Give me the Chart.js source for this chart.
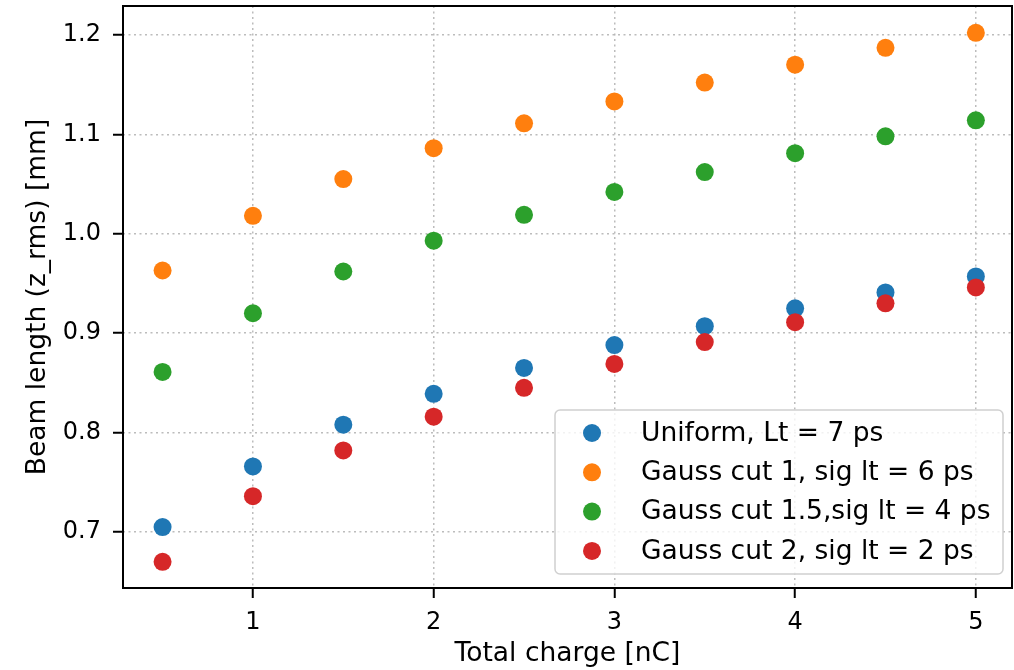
<!DOCTYPE html>
<html>
<head>
<meta charset="utf-8">
<script src="https://cdn.jsdelivr.net/npm/chart.js@4.4.1/dist/chart.umd.min.js"></script>
<style>
  body { margin: 0; background: #fff; }
  canvas { display: block; }
</style>
</head>
<body>
<canvas id="myChart" width="1014" height="670"></canvas>
<script>
// total charge [nC]
const charge = [0.5, 1, 1.5, 2, 2.5, 3, 3.5, 4, 4.5, 5];

// beam length z_rms [mm] per laser profile
const uniform7 = [0.705, 0.766, 0.808, 0.839, 0.865, 0.888, 0.907, 0.925, 0.941, 0.957];
const gaussCut1 = [0.963, 1.018, 1.055, 1.086, 1.111, 1.133, 1.152, 1.170, 1.187, 1.202];
const gaussCut15 = [0.861, 0.920, 0.962, 0.993, 1.019, 1.042, 1.062, 1.081, 1.098, 1.114];
const gaussCut2 = [0.670, 0.736, 0.782, 0.816, 0.845, 0.869, 0.891, 0.911, 0.930, 0.946];

const etiquetas = [
  'Uniform, Lt = 7 ps',
  'Gauss cut 1, sig lt = 6 ps',
  'Gauss cut 1.5,sig lt = 4 ps',
  'Gauss cut 2, sig lt = 2 ps'
];
const colores = ['#1f77b4', '#ff7f0e', '#2ca02c', '#d62728'];

const xTicks = [1, 2, 3, 4, 5];
const yTicks = [0.7, 0.8, 0.9, 1.0, 1.1, 1.2];

const FONT = "'DejaVu Sans', sans-serif";

const puntos = (ys) => charge.map((x, i) => ({ x: x, y: ys[i] }));

const series = [uniform7, gaussCut1, gaussCut15, gaussCut2];
const datasets = series.map((ys, i) => ({
  label: etiquetas[i],
  data: puntos(ys),
  backgroundColor: colores[i],
  borderWidth: 0,
  pointRadius: 9,
  pointHoverRadius: 9,
  order: series.length - 1 - i   // later series drawn on top
}));

// black frame around the plot area + legend box in the lower right
const marco = {
  id: 'marco',
  afterDatasetsDraw(chart) {
    const { ctx, chartArea: a } = chart;
    ctx.save();
    ctx.strokeStyle = '#000';
    ctx.lineWidth = 2;
    ctx.strokeRect(a.left, a.top, a.right - a.left, a.bottom - a.top);

    const w = 448, h = 164;
    const bx = a.right - 9 - w, by = a.bottom - 14 - h;
    ctx.beginPath();
    ctx.roundRect(bx, by, w, h, 5);
    ctx.fillStyle = 'rgba(255,255,255,0.8)';
    ctx.fill();
    ctx.strokeStyle = '#d0d0d0';
    ctx.lineWidth = 1.5;
    ctx.stroke();

    ctx.font = '26.5px ' + FONT;
    ctx.textBaseline = 'middle';
    ctx.textAlign = 'left';
    etiquetas.forEach((t, i) => {
      const y = by + 23 + i * 39.3;
      ctx.beginPath();
      ctx.arc(bx + 37, y, 9, 0, Math.PI * 2);
      ctx.fillStyle = colores[i];
      ctx.fill();
      ctx.fillStyle = '#000';
      ctx.fillText(t, bx + 86, y + 1);
    });
    ctx.restore();
  }
};

const gridOpts = {
  color: 'rgba(176,176,176,0.85)',
  lineWidth: 1.5,
  tickColor: '#000',
  tickWidth: 2,
  tickLength: 10
};

const ctx = document.getElementById('myChart').getContext('2d');
const myChart = new Chart(ctx, {
  type: 'scatter',
  data: { datasets: datasets },
  options: {
    responsive: false,
    animation: false,
    layout: { autoPadding: false, padding: { left: 22, top: 6, right: 2, bottom: 0 } },
    plugins: {
      legend: { display: false },
      tooltip: { enabled: false }
    },
    scales: {
      x: {
        type: 'linear',
        min: 0.281,
        max: 5.2,
        afterBuildTicks: (axis) => { axis.ticks = xTicks.map(v => ({ value: v })); },
        afterFit: (axis) => {
          axis.height = 82;
          axis.paddingLeft = 0;
          axis.paddingRight = 0;
        },
        grid: gridOpts,
        border: { display: false, dash: [2, 3.5] },
        ticks: {
          color: '#000',
          font: { family: FONT, size: 24 },
          padding: 10,
          maxRotation: 0,
          callback: (v) => String(v)
        },
        title: {
          display: true,
          text: 'Total charge [nC]',
          color: '#000',
          font: { family: FONT, size: 26.5 },
          padding: 0
        }
      },
      y: {
        type: 'linear',
        min: 0.6437,
        max: 1.229,
        afterBuildTicks: (axis) => { axis.ticks = yTicks.map(v => ({ value: v })); },
        afterFit: (axis) => {
          axis.width = 101;
          axis.paddingTop = 0;
          axis.paddingBottom = 0;
        },
        grid: gridOpts,
        border: { display: false, dash: [2, 3.5] },
        ticks: {
          color: '#000',
          font: { family: FONT, size: 24 },
          padding: 12,
          callback: (v) => Number(v).toFixed(1)
        },
        title: {
          display: true,
          text: 'Beam length (z_rms) [mm]',
          color: '#000',
          font: { family: FONT, size: 26.5 },
          padding: 0
        }
      }
    }
  },
  plugins: [marco]
});
</script>
</body>
</html>
